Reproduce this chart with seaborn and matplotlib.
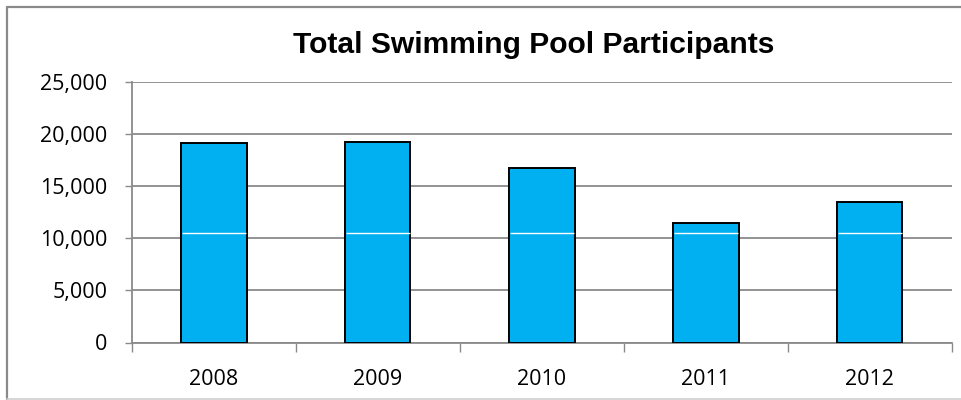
import matplotlib
matplotlib.use("Agg")
import matplotlib.pyplot as plt
from matplotlib.lines import Line2D
import seaborn as sns
import pandas as pd

# Yearly totals
years = ["2008", "2009", "2010", "2011", "2012"]
participants = [19170, 19210, 16720, 11470, 13480]
y_ticks = [0, 5000, 10000, 15000, 20000, 25000]
title = "Total Swimming Pool Participants"

df = pd.DataFrame({"Year": years, "Participants": participants})

sns.set_style("white")
plt.rcParams["font.family"] = ["Open Sans", "DejaVu Sans"]

W, H = 962, 400
fig = plt.figure(figsize=(W / 100, H / 100), dpi=100)
ax = fig.add_axes([131.7 / W, (H - 342.5) / H, (951.7 - 131.7) / W, (342.5 - 82) / H])

grey = "#8a8a8a"
sns.barplot(data=df, x="Year", y="Participants", color="#00B0F0", saturation=1,
            edgecolor="black", linewidth=1.4, width=0.4, ax=ax, zorder=3)

# thin light band across each column
for p in ax.patches:
    ax.hlines(10500, p.get_x() + 0.006, p.get_x() + p.get_width() - 0.006,
              color="white", lw=1.0, zorder=4)

ax.set_xlim(-0.5, len(years) - 0.5)
ax.set_ylim(0, 25000)
ax.set_yticks(y_ticks)
ax.set_yticklabels([f"{v:,}" for v in y_ticks])
ax.yaxis.grid(True, color=grey, lw=1.3)
ax.set_axisbelow(True)
ax.set_xlabel("")
ax.set_ylabel("")

for side in ["top", "right"]:
    ax.spines[side].set_visible(False)
for side in ["left", "bottom"]:
    ax.spines[side].set_color(grey)
    ax.spines[side].set_linewidth(1.3)

ax.tick_params(axis="y", which="major", left=True, length=5.4, width=1.0, color=grey,
               pad=12, labelsize=15.5, labelcolor="black")
ax.tick_params(axis="x", which="major", bottom=False, length=0, pad=19,
               labelsize=15.5, labelcolor="black")
ax.set_xticks([i - 0.5 for i in range(len(years) + 1)], minor=True)
ax.tick_params(axis="x", which="minor", bottom=True, length=6.5, width=1.0, color=grey)

fig.text(534 / W, (H - 45) / H, title, ha="center", va="center", color="black",
         fontsize=21.6, fontweight="bold", family=["Liberation Sans", "DejaVu Sans"])

# chart frame
fig.add_artist(Line2D([7 / W, 7 / W], [1.5 / H, (H - 7) / H], color="#8a8a8a", lw=1.6,
                      transform=fig.transFigure))
fig.add_artist(Line2D([7 / W, 1.0], [(H - 7) / H, (H - 7) / H], color="#8a8a8a", lw=1.6,
                      transform=fig.transFigure))
fig.add_artist(Line2D([7 / W, 1.0], [1.5 / H, 1.5 / H], color="#d0d0d0", lw=1.2,
                      transform=fig.transFigure))

fig.savefig("out.png", dpi=100)
